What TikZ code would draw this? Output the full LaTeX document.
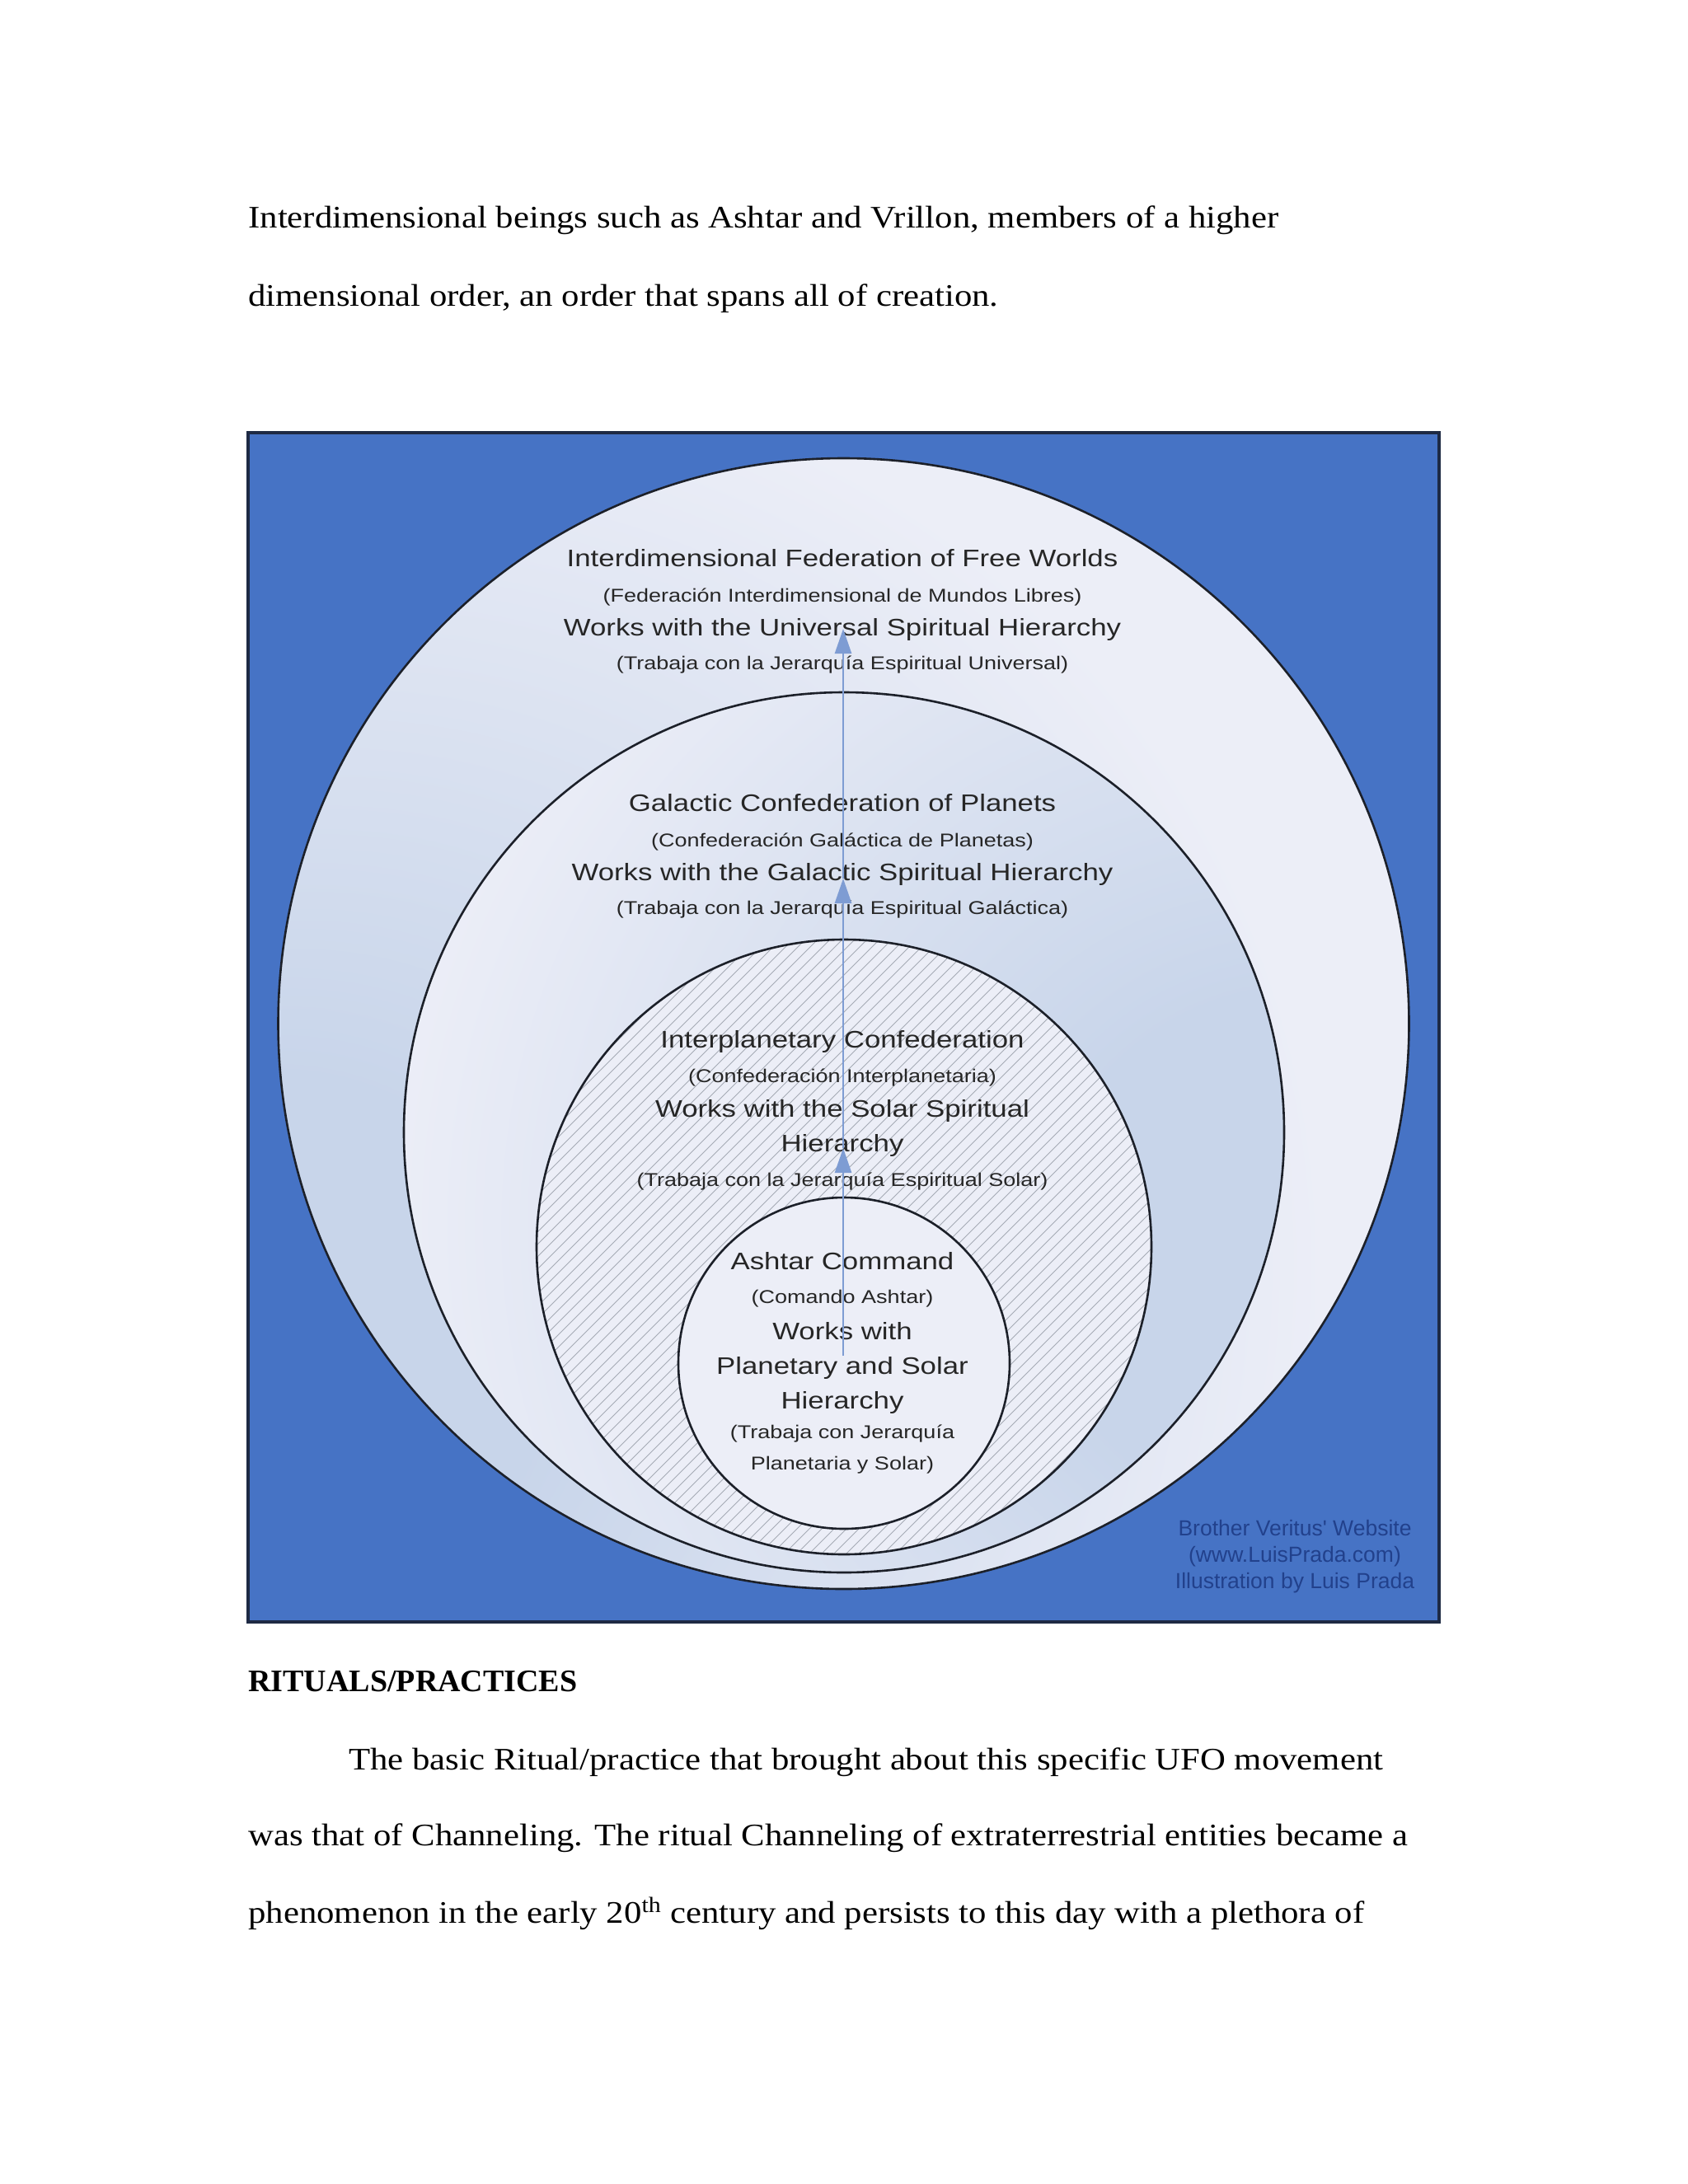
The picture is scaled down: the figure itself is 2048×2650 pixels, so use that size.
\documentclass[tikz,border=0pt]{standalone}
\usepackage{fontspec}
\setmainfont{Liberation Serif}
\newfontfamily\bodyfont[FakeStretch=1.125]{Liberation Serif}
\newfontfamily\headfont{Liberation Serif}
\newfontfamily\diagfont[FakeStretch=1.2]{Liberation Sans}
\newfontfamily\creditfont{Liberation Sans}
\usetikzlibrary{arrows.meta}

\definecolor{boxblue}{HTML}{4673C5}
\definecolor{boxedge}{HTML}{1E2A44}
\definecolor{ringline}{HTML}{1C2029}
\definecolor{lightdisc}{HTML}{ECEEF7}
\definecolor{bluedisc}{HTML}{C8D5EA}
\definecolor{hatchgray}{HTML}{A5AAB5}
\definecolor{arrowblue}{HTML}{7E9CD3}
\definecolor{diagtext}{HTML}{262626}
\definecolor{credittext}{HTML}{22418C}

\pgfdeclareradialshading{outershade}{\pgfpoint{-28bp}{-16bp}}{color(0bp)=(bluedisc); color(12bp)=(bluedisc); color(40bp)=(lightdisc); color(120bp)=(lightdisc)}
\pgfdeclareradialshading{midshade}{\pgfpoint{30bp}{-8bp}}{color(0bp)=(bluedisc); color(15bp)=(bluedisc); color(45bp)=(lightdisc); color(120bp)=(lightdisc)}

\tikzset{
  disc/.style={circle, inner sep=0pt, outer sep=0pt, draw=ringline, line width=1.3pt},
  hatchline/.style={draw=hatchgray, line width=0.5pt},
  flow/.style={draw=arrowblue, line width=1.3pt, -{Triangle[width=10pt,length=15pt]}},
  bodytext/.style={anchor=base west, inner sep=0pt, font=\bodyfont\fontsize{19}{22}\selectfont, text=black},
  headtext/.style={anchor=base west, inner sep=0pt, font=\headfont\bfseries\fontsize{19}{22}\selectfont, text=black},
  dtitle/.style={anchor=base, inner sep=0pt, font=\diagfont\fontsize{14.5}{17}\selectfont, text=diagtext},
  dsmall/.style={anchor=base, inner sep=0pt, font=\diagfont\fontsize{11.25}{13}\selectfont, text=diagtext},
  credit/.style={anchor=base, inner sep=0pt, font=\creditfont\fontsize{13.25}{15}\selectfont, text=credittext}
}

\begin{document}
\begin{tikzpicture}[x=0.5pt, y=-0.5pt]
\useasboundingbox (0,0) rectangle (2048,2650);
\fill[white] (0,0) rectangle (2048,2650);

% body text above
\node[bodytext] (p1) at (301,276) {Interdimensional beings such as Ashtar and Vrillon, members of a higher};
\node[bodytext] (p2) at (301,371) {dimensional order, an order that spans all of creation.};

% frame
\draw[fill=boxblue, draw=boxedge, line width=2pt] (301,525) rectangle (1746,1968);

% discs
\node[disc, shading=outershade, minimum size=686pt] (c1) at (1023.5,1242) {};
\node[disc, shading=midshade, minimum size=534pt] (c2) at (1024,1374) {};
\node[disc, fill=lightdisc, minimum size=373pt,
  path picture={
    \foreach \k in {-52,...,52}
      \draw[hatchline] ([xshift=\k*7.5pt]path picture bounding box.center) ++(-200pt,-200pt) -- ++(400pt,400pt);
  }] (c3) at (1024,1513) {};
\node[disc, fill=lightdisc, minimum size=201pt] (c4) at (1024,1654) {};

% outer disc texts
\node[dtitle] (l1a) at (1022,687) {Interdimensional Federation of Free Worlds};
\node[dsmall] (l1b) at (1022,730) {(Federación Interdimensional de Mundos Libres)};
\node[dtitle] (l1c) at (1022,771) {Works with the Universal Spiritual Hierarchy};
\node[dsmall] (l1d) at (1022,812) {(Trabaja con la Jerarquía Espiritual Universal)};

% galactic texts
\node[dtitle] (l2a) at (1022,984) {Galactic Confederation of Planets};
\node[dsmall] (l2b) at (1022,1027) {(Confederación Galáctica de Planetas)};
\node[dtitle] (l2c) at (1022,1068) {Works with the Galactic Spiritual Hierarchy};
\node[dsmall] (l2d) at (1022,1109) {(Trabaja con la Jerarquía Espiritual Galáctica)};

% interplanetary texts
\node[dtitle] (l3a) at (1022,1271) {Interplanetary Confederation};
\node[dsmall] (l3b) at (1022,1313) {(Confederación Interplanetaria)};
\node[dtitle] (l3c) at (1022,1355) {Works with the Solar Spiritual};
\node[dtitle] (l3d) at (1022,1397) {Hierarchy};
\node[dsmall] (l3e) at (1022,1439) {(Trabaja con la Jerarquía Espiritual Solar)};

% ashtar texts
\node[dtitle] (l4a) at (1022,1540) {Ashtar Command};
\node[dsmall] (l4b) at (1022,1581) {(Comando Ashtar)};
\node[dtitle] (l4c) at (1022,1625) {Works with};
\node[dtitle] (l4d) at (1022,1667) {Planetary and Solar};
\node[dtitle] (l4e) at (1022,1709) {Hierarchy};
\node[dsmall] (l4f) at (1022,1745) {(Trabaja con Jerarquía};
\node[dsmall] (l4g) at (1022,1783) {Planetaria y Solar)};

% credits
\node[credit] (k1) at (1571,1863) {Brother Veritus' Website};
\node[credit] (k2) at (1571,1895) {(www.LuisPrada.com)};
\node[credit] (k3) at (1571,1927) {Illustration by Luis Prada};

% arrows
\coordinate (a0) at (1023,1645);
\coordinate (a1) at (1023,1393);
\coordinate (a2) at (1023,1066);
\coordinate (a3) at (1023,763);
\draw[flow] (a0) -- (a1);
\draw[flow] (a1) -- (a2);
\draw[flow] (a2) -- (a3);

% body text below
\node[headtext] (h1) at (301,2052) {RITUALS/PRACTICES};
\node[bodytext] (p3) at (423,2147) {The basic Ritual/practice that brought about this specific UFO movement};
\node[bodytext] (p4) at (301,2239) {was that of Channeling. The ritual Channeling of extraterrestrial entities became a};
\node[bodytext] (p5) at (301,2333) {phenomenon in the early 20\textsuperscript{th} century and persists to this day with a plethora of};
\end{tikzpicture}
\end{document}
